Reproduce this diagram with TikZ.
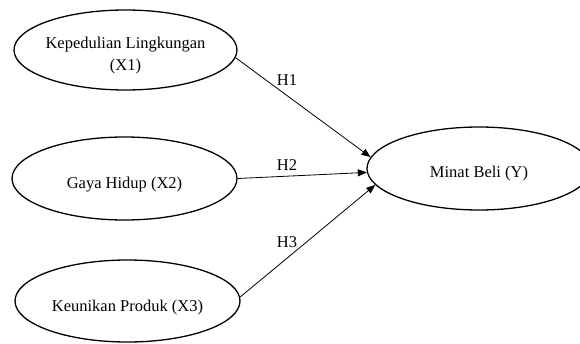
\documentclass[tikz,border=0pt]{standalone}
\usepackage{fontspec}
\setmainfont{Liberation Serif}
\usetikzlibrary{shapes.geometric,arrows.meta}
\begin{document}
\begin{tikzpicture}[x=1pt,y=-1pt,
  ellnode/.style={draw=black,line width=1.3pt,ellipse,inner sep=0pt,
    minimum width=#1},
  txt/.style={inner sep=0pt,align=center,font=\fontsize{16.5}{22.5}\selectfont},
  hyp/.style={inner sep=0pt,font=\fontsize{16.5}{20}\selectfont},
  conn/.style={draw=black,line width=0.8pt,-{Triangle[length=9pt,width=7pt]}}]
\useasboundingbox (0,0) rectangle (580,343);
\clip (0,0) rectangle (580,343);
% ellipses
\node[ellnode=223pt,minimum height=80pt] (x1) at (125.5,50) {};
\node[ellnode=225pt,minimum height=83pt] (x2) at (124.5,178.5) {};
\node[ellnode=225pt,minimum height=82pt] (x3) at (127.5,301) {};
\node[ellnode=224pt,minimum height=83pt] (y) at (479,168.5) {};
% texts
\node[txt] (x1t) at ([yshift=-5.5pt]x1.center) {Kepedulian Lingkungan\\(X1)};
\node[txt] (x2t) at ([yshift=-6.5pt]x2.center) {Gaya Hidup (X2)};
\node[txt] (x3t) at ([yshift=-6.5pt]x3.center) {Keunikan Produk (X3)};
\node[txt] (yt) at ([yshift=-5.5pt]y.center) {Minat Beli (Y)};
% connectors
\draw[conn] (x1.-4) -- (y.174.5);
\draw[conn] (x2.east) -- (y.182.4);
\draw[conn] (x3.2) -- (y.189);
% labels
\node[hyp] (h1) at (287,80) {H1};
\node[hyp] (h2) at (287,165) {H2};
\node[hyp] (h3) at (287,242) {H3};
\end{tikzpicture}
\end{document}
